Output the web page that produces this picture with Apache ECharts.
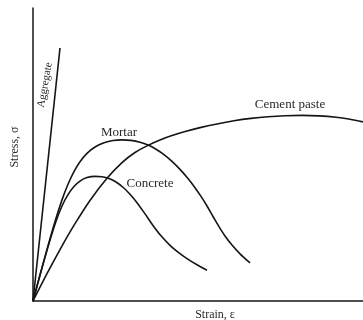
<!DOCTYPE html>
<html>
<head>
<meta charset="utf-8">
<script src="https://cdn.jsdelivr.net/npm/echarts@6/dist/echarts.min.js"></script>
<style>
html,body{margin:0;padding:0;background:#fff;}
#c{width:363px;height:320px;}
</style>
</head>
<body>
<div id="c"></div>
<script>
// Strain (x) and stress (y) in arbitrary units
const aggregate = [[0, 0], [8.18, 86.35]];
const mortar = [
  [0, 0], [3.64, 15.15], [6.67, 27.10], [8.79, 34.51], [10.61, 39.83], [12.42, 44.13],
  [14.24, 47.51], [16.36, 50.38], [18.79, 52.56], [21.52, 53.99], [24.24, 54.76],
  [26.97, 55.00], [29.70, 54.81], [32.42, 54.20], [34.85, 53.24], [37.27, 51.81],
  [39.70, 49.97], [42.12, 47.65], [44.55, 44.91], [46.97, 41.77], [49.09, 38.67],
  [50.91, 35.70], [52.73, 32.42], [54.55, 28.84], [56.36, 25.36], [58.18, 22.18],
  [60.30, 19.08], [62.73, 16.08], [65.76, 13.00]
];
const concrete = [
  [0, 0], [3.64, 14.95], [6.67, 26.21], [8.79, 32.42], [10.61, 36.31], [12.42, 39.08],
  [14.24, 40.92], [16.36, 42.12], [18.79, 42.53], [20.91, 42.41], [23.03, 41.81],
  [25.15, 40.61], [27.27, 38.82], [29.39, 36.43], [31.52, 33.57], [33.94, 29.74],
  [36.36, 25.78], [38.79, 22.24], [41.52, 19.01], [43.94, 16.69], [46.67, 14.47],
  [49.70, 12.35], [52.73, 10.48]
];
const cementPaste = [
  [0, 0], [4.24, 9.32], [8.48, 18.16], [12.73, 26.38], [17.27, 34.32], [22.42, 41.86],
  [26.97, 47.24], [30.91, 50.68], [34.85, 53.12], [38.48, 54.95], [42.12, 56.45],
  [46.36, 57.92], [50.61, 59.18], [55.76, 60.44], [60.91, 61.50], [66.06, 62.32],
  [71.21, 62.90], [76.36, 63.24], [81.52, 63.34], [86.67, 63.17], [91.82, 62.70],
  [96.06, 62.01], [100, 61.13]
];
const xAxisTitle = 'Strain, ε';
const yAxisTitle = 'Stress, σ';
const curveLabels = ['Aggregate', 'Mortar', 'Concrete', 'Cement paste'];

const lineColor = '#151515';
const textColor = '#2a2a2a';
const font = '"Liberation Serif", "DejaVu Serif", serif';

function mk(name, data) {
  return {
    name: name, type: 'line', data: data, smooth: 0.3, symbol: 'none',
    lineStyle: { color: lineColor, width: 1.6 }, silent: true
  };
}

const chart = echarts.init(document.getElementById('c'), null, { renderer: 'canvas' });
chart.setOption({
  animation: false,
  backgroundColor: '#fff',
  grid: { left: 33, right: 0, top: 8, bottom: 19 },
  xAxis: {
    type: 'value', min: 0, max: 100,
    axisLine: { show: true, lineStyle: { color: lineColor, width: 1.5 } },
    axisTick: { show: false }, axisLabel: { show: false }, splitLine: { show: false }
  },
  yAxis: {
    type: 'value', min: 0, max: 100,
    axisLine: { show: true, lineStyle: { color: lineColor, width: 1.5 } },
    axisTick: { show: false }, axisLabel: { show: false }, splitLine: { show: false }
  },
  series: [
    mk(curveLabels[0], aggregate),
    mk(curveLabels[1], mortar),
    mk(curveLabels[2], concrete),
    mk(curveLabels[3], cementPaste)
  ],
  graphic: [
    { type: 'text', x: 45, y: 85, rotation: 80 * Math.PI / 180,
      style: { text: curveLabels[0], font: '11px ' + font, fill: textColor, textAlign: 'center', textVerticalAlign: 'middle' } },
    { type: 'text', x: 119, y: 133,
      style: { text: curveLabels[1], font: '13px ' + font, fill: textColor, textAlign: 'center', textVerticalAlign: 'middle' } },
    { type: 'text', x: 150, y: 184,
      style: { text: curveLabels[2], font: '13px ' + font, fill: textColor, textAlign: 'center', textVerticalAlign: 'middle' } },
    { type: 'text', x: 290, y: 105,
      style: { text: curveLabels[3], font: '13px ' + font, fill: textColor, textAlign: 'center', textVerticalAlign: 'middle' } },
    { type: 'text', x: 215, y: 315,
      style: { text: xAxisTitle, font: '12px ' + font, fill: textColor, textAlign: 'center', textVerticalAlign: 'middle' } },
    { type: 'text', x: 15, y: 147, rotation: Math.PI / 2,
      style: { text: yAxisTitle, font: '12px ' + font, fill: textColor, textAlign: 'center', textVerticalAlign: 'middle' } }
  ]
});
</script>
</body>
</html>
